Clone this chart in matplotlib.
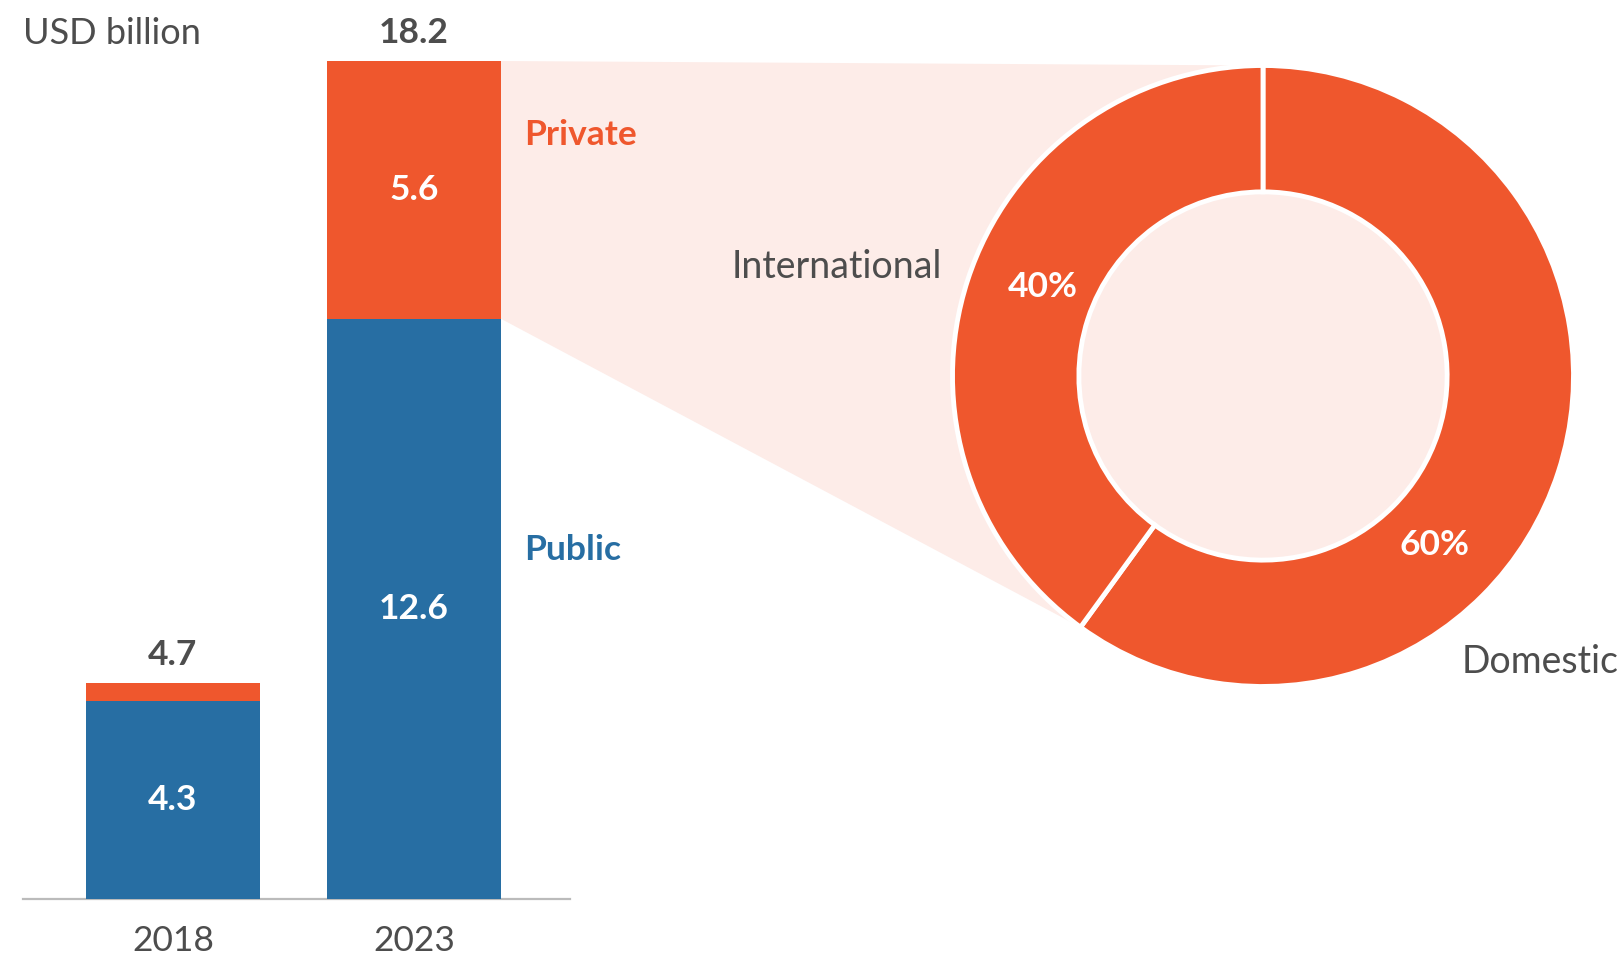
import numpy as np
import matplotlib.pyplot as plt
from matplotlib.patches import Polygon, Circle

plt.rcParams['font.family'] = ['Lato', 'DejaVu Sans']

years = ['2018', '2023']
public = [4.3, 12.6]
private = [0.4, 5.6]
totals = [4.7, 18.2]
split_labels = ['Domestic', 'International']
split_shares = [60, 40]

ORANGE = '#EF572D'
BLUE = '#276EA3'
PINK = '#FDECE8'
GREY = '#4D4D4D'

W, H = 1623, 957
fig = plt.figure(figsize=(W / 100, H / 100), dpi=100)

# bar panel
ax = fig.add_axes([23 / W, 58 / H, 547 / W, 838 / H])
ax.set_facecolor('none')
x = np.arange(len(years))
bw = 0.722
ax.bar(x, public, bw, color=BLUE, zorder=3)
ax.bar(x, private, bw, bottom=public, color=ORANGE, zorder=3)
ax.set_xlim(-0.622, 1.647)
ax.set_ylim(0, 18.2)
for s in ['top', 'left', 'right']:
    ax.spines[s].set_visible(False)
ax.spines['bottom'].set_color('#BBBBBB')
ax.spines['bottom'].set_linewidth(1.6)
ax.set_yticks([])
ax.set_xticks(x)
ax.set_xticklabels(years, fontsize=25.5, color=GREY)
ax.tick_params(axis='x', length=0, pad=19)

for i in range(len(years)):
    ax.annotate(f'{totals[i]}', (x[i], public[i] + private[i]), xytext=(0, 20),
                textcoords='offset points', ha='center', va='center',
                fontsize=25.5, fontweight='bold', color=GREY)
    ax.text(x[i], public[i] / 2, f'{public[i]}', ha='center', va='center',
            fontsize=25.5, fontweight='bold', color='white', zorder=4)
ax.text(x[1], public[1] + private[1] / 2, f'{private[1]}', ha='center', va='center',
        fontsize=25.5, fontweight='bold', color='white', zorder=4)
ax.text(1.456, 16.6, 'Private', ha='left', va='center', fontsize=25.5,
        fontweight='bold', color=ORANGE)
ax.text(1.456, 7.59, 'Public', ha='left', va='center', fontsize=25.5,
        fontweight='bold', color=BLUE)
fig.text(23 / W, 1 - 34 / H, 'USD billion', ha='left', va='center',
         fontsize=26, color=GREY)

# donut panel
R = 310.5
pax = fig.add_axes([(1263 - R) / W, (H - 376 - R) / H, 2 * R / W, 2 * R / H])
pax.set_facecolor('none')
pax.add_patch(Circle((0, 0), 1.0, color=PINK, zorder=0))
wedges, _ = pax.pie(split_shares, startangle=90, counterclock=False,
                    colors=[ORANGE, ORANGE], radius=1.0,
                    wedgeprops=dict(width=0.407, edgecolor='white', linewidth=3.5))
pax.set_xlim(-1, 1)
pax.set_ylim(-1, 1)
pax.set_aspect('equal')
pax.axis('off')
pax.text(-0.709, 0.287, f'{split_shares[1]}%', ha='center', va='center',
         fontsize=25.5, fontweight='bold', color='white')
pax.text(0.551, -0.544, f'{split_shares[0]}%', ha='center', va='center',
         fontsize=25.5, fontweight='bold', color='white')
pax.text(-1.035, 0.35, split_labels[1], ha='right', va='center', fontsize=27, color=GREY)
pax.text(0.64, -0.92, split_labels[0], ha='left', va='center', fontsize=27, color=GREY)

# connecting fan between the 2023 private segment and the donut
ang = np.deg2rad(90 - 360 * split_shares[0] / 100)
to_fig = fig.transFigure.inverted()
pts_disp = [
    ax.transData.transform((x[1] + bw / 2, public[1] + private[1])),
    pax.transData.transform((0, 1.0)),
    pax.transData.transform((0, 0)),
    pax.transData.transform((np.cos(ang), np.sin(ang))),
    ax.transData.transform((x[1] + bw / 2, public[1])),
]
poly = Polygon(to_fig.transform(pts_disp), closed=True, facecolor=PINK,
               edgecolor='none', transform=fig.transFigure, zorder=-1)
fig.patches.append(poly)

fig.savefig('out.png', dpi=100, facecolor='white')
